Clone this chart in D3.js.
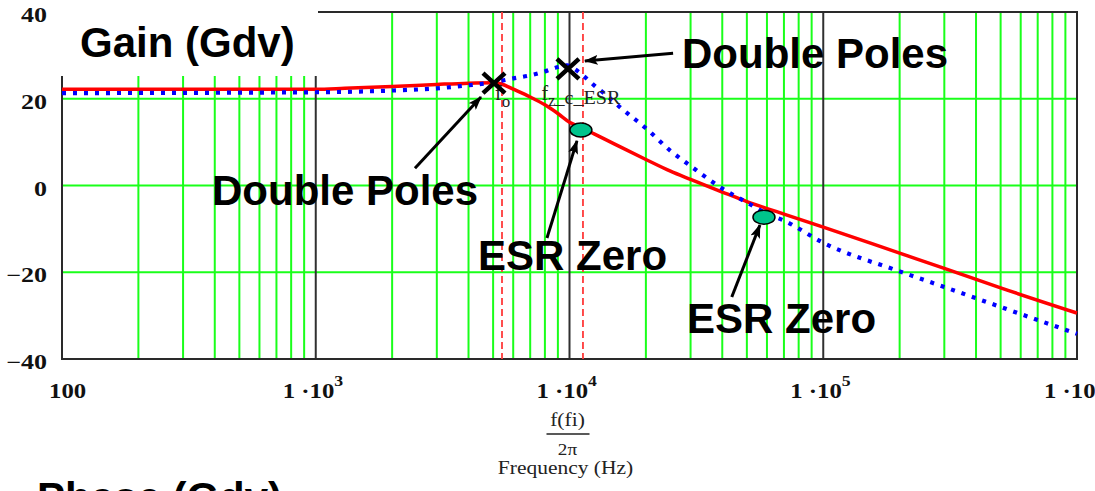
<!DOCTYPE html>
<html>
<head>
<meta charset="utf-8">
<script src="https://cdn.jsdelivr.net/npm/d3@7"></script>
<style>
  html, body { margin: 0; padding: 0; background: #fff; overflow: hidden; }
  svg { display: block; }
</style>
</head>
<body>
<svg id="chart" width="1095" height="491"></svg>
<script>
// ---------------- DATA ----------------
const redFreq = [100, 1000, 1300, 2000, 3000, 4000, 5000, 5400, 6000, 7000, 8000, 9000, 10000, 11000, 12500, 15000, 20000, 25000, 30000, 40000, 50000, 70000, 100000, 200000, 300000, 500000, 1000000];
const redGain = [22.2, 22.2, 22.4, 22.8, 23.3, 23.6, 23.7, 23.4, 22.2, 20.4, 18.6, 16.6, 14.6, 13.5, 11.9, 9.6, 6.0, 3.3, 1.4, -1.5, -3.7, -6.6, -9.6, -15.6, -19.1, -23.6, -29.4];

const blueFreq = [100, 1000, 2000, 3000, 4000, 5000, 6000, 7000, 8000, 9000, 9800, 10500, 11300, 12500, 14000, 16000, 20000, 25000, 30000, 40000, 50000, 60000, 70000, 100000, 200000, 300000, 500000, 1000000];
const blueGain = [21.3, 21.5, 21.9, 22.4, 23.1, 23.8, 24.7, 25.4, 26.3, 27.3, 27.7, 26.8, 25.4, 23.1, 20.8, 17.8, 13.2, 8.0, 4.5, -0.7, -3.9, -6.5, -8.1, -13.2, -19.8, -23.4, -28.0, -34.2];

const xTickValues = [100, 1000, 10000, 100000, 1000000];
const xTickBase = ["100", "1 ·10", "1 ·10", "1 ·10", "1 ·10"];
const xTickExp = ["", "3", "4", "5", "6"];
const yTickValues = [40, 20, 0, -20, -40];
const yTickLabels = ["40", "20", "0", "\u221220", "\u221240"];

// vertical reference lines (Hz)
const refFreqs = [5420, 11300];         // f_o, f_ESR (red dashed)
// pole markers (X) and ESR-zero markers (ellipses) in (Hz, dB)
const poleFreq = [5040, 9860];
const poleGain = [23.6, 26.9];
const zeroFreq = [11090, 58400];
const zeroGain = [12.8, -7.3];
// annotation arrows: tail -> tip, in (Hz, dB)
const arrowTailFreq = [25600, 2460, 8150, 43600];
const arrowTailGain = [30.5, 4.0, -12.1, -25.7];
const arrowTipFreq  = [11500, 4480, 10700, 56300];
const arrowTipGain  = [28.7, 20.4, 10.3, -9.1];

// ---------------- CHART ----------------
const svg = d3.select("#chart");
const pLeft = 62, pRight = 1077, pTop = 12, pBottom = 359;

const x = d3.scaleLog().domain([100, 1e6]).range([pLeft, pRight]);
const y = d3.scaleLinear().domain([-40, 40]).range([pBottom, pTop]);

const defs = svg.append("defs");
defs.append("marker").attr("id", "ah").attr("viewBox", "0 0 14 10")
  .attr("refX", 13).attr("refY", 5).attr("markerWidth", 14).attr("markerHeight", 10)
  .attr("markerUnits", "userSpaceOnUse").attr("orient", "auto")
  .append("path").attr("d", "M0,0 L14,5 L0,10 L3,5 Z").attr("fill", "#000");

// minor green vertical grid
const minor = [];
for (let d = 100; d < 1e6; d *= 10) for (let m = 2; m <= 9; m++) minor.push(m * d);
svg.append("g").selectAll("line").data(minor).join("line")
  .attr("x1", d => x(d)).attr("x2", d => x(d)).attr("y1", pTop).attr("y2", pBottom)
  .attr("stroke", "#1aff1a").attr("stroke-width", 2);
// horizontal green grid
svg.append("g").selectAll("line").data([20, 0, -20]).join("line")
  .attr("x1", pLeft).attr("x2", pRight).attr("y1", d => y(d)).attr("y2", d => y(d))
  .attr("stroke", "#1aff1a").attr("stroke-width", 2);
// decade lines
svg.append("g").selectAll("line").data([1e3, 1e4, 1e5]).join("line")
  .attr("x1", d => x(d)).attr("x2", d => x(d)).attr("y1", pTop).attr("y2", pBottom)
  .attr("stroke", "#303030").attr("stroke-width", 2);
// frame
svg.append("rect").attr("x", pLeft).attr("y", pTop).attr("width", pRight - pLeft).attr("height", pBottom - pTop)
  .attr("fill", "none").attr("stroke", "#2a2a2a").attr("stroke-width", 2);

// axes (positions only), labels drawn below
const xAxis = svg.append("g").attr("transform", `translate(0,${pBottom})`)
  .call(d3.axisBottom(x).tickValues(xTickValues).tickSize(0).tickFormat(""));
xAxis.select(".domain").remove();
const yAxis = svg.append("g").attr("transform", `translate(${pLeft},0)`)
  .call(d3.axisLeft(y).tickValues(yTickValues).tickSize(0).tickFormat(""));
yAxis.select(".domain").remove();

// red dashed reference lines
svg.append("g").selectAll("line").data(refFreqs).join("line")
  .attr("x1", d => x(d)).attr("x2", d => x(d)).attr("y1", pTop).attr("y2", pBottom)
  .attr("stroke", "#ff3a3a").attr("stroke-width", 1.8).attr("stroke-dasharray", "7 4");

// curves
const line = d3.line().curve(d3.curveMonotoneX).x(d => x(d[0])).y(d => y(d[1]));
svg.append("path").datum(redFreq.map((f, i) => [f, redGain[i]]))
  .attr("d", line).attr("fill", "none").attr("stroke", "#ff0000").attr("stroke-width", 3.5);
svg.append("path").datum(blueFreq.map((f, i) => [f, blueGain[i]]))
  .attr("d", line).attr("fill", "none").attr("stroke", "#0000ff").attr("stroke-width", 4.2)
  .attr("stroke-dasharray", "4 7");

// white title box covering top-left of plot
svg.append("rect").attr("x", 55).attr("y", 0).attr("width", 263).attr("height", 76).attr("fill", "#fff");

// tick labels (stretched serif like Mathcad)
const serif = "'Liberation Serif', 'Times New Roman', serif";
xTickValues.forEach((v, i) => {
  const g = svg.append("g").attr("transform", `translate(${x(v) + (i === 0 ? -13 : -33)},398) scale(1.18,1)`);
  const t = g.append("text").attr("font-family", serif).attr("font-weight", "bold")
    .attr("font-size", 21).attr("fill", "#111");
  t.append("tspan").text(xTickBase[i]);
  if (xTickExp[i]) t.append("tspan").attr("dy", -12).attr("font-size", 15).text(xTickExp[i]);
});
yTickValues.forEach((v, i) => {
  svg.append("g").attr("transform", `translate(47,${y(v) + 10}) scale(1.3,1)`)
    .append("text").attr("text-anchor", "end").attr("font-family", serif).attr("font-weight", "bold")
    .attr("font-size", 20).attr("fill", "#111").text(yTickLabels[i]);
});

// x axis title (Mathcad style)
const cx = x(1e4) - 2;
svg.append("g").attr("transform", `translate(${cx},426) scale(1.13,1)`)
  .append("text").attr("text-anchor", "middle").attr("font-family", serif).attr("font-size", 19)
  .attr("fill", "#222").text("f(fi)");
svg.append("line").attr("x1", cx - 21).attr("x2", cx + 22).attr("y1", 434).attr("y2", 434)
  .attr("stroke", "#222").attr("stroke-width", 1.3);
svg.append("g").attr("transform", `translate(${cx},455) scale(1.13,1)`)
  .append("text").attr("text-anchor", "middle").attr("font-family", serif).attr("font-size", 17)
  .attr("fill", "#222").text("2π");
svg.append("g").attr("transform", `translate(${cx - 2},474) scale(1.13,1)`)
  .append("text").attr("text-anchor", "middle").attr("font-family", serif).attr("font-size", 19)
  .attr("fill", "#222").text("Frequency (Hz)");

// Mathcad marker labels
const fo = svg.append("text").attr("x", x(refFreqs[0]) - 7).attr("y", 100)
  .attr("font-family", serif).attr("font-size", 20).attr("fill", "#222");
fo.append("tspan").text("f");
fo.append("tspan").attr("dy", 7).attr("font-size", 17).text("o");
const fz = svg.append("text").attr("x", x(1e4) - 28).attr("y", 100)
  .attr("font-family", serif).attr("font-size", 20).attr("fill", "#222");
fz.append("tspan").text("f");
fz.append("tspan").attr("dy", 6).attr("font-size", 16).text("z");
svg.append("text").attr("x", x(1e4) - 15).attr("y", 104).attr("font-family", serif)
  .attr("font-size", 18).attr("fill", "#222").attr("textLength", 66).attr("lengthAdjust", "spacingAndGlyphs")
  .text("_c_ESR");

// pole X markers
const xs = svg.append("g");
poleFreq.forEach((f, i) => {
  const px = x(f), py = y(poleGain[i]);
  xs.append("path").attr("d", `M${px - 11},${py - 10}L${px + 11},${py + 10}M${px - 11},${py + 10}L${px + 11},${py - 10}`)
    .attr("stroke", "#000").attr("stroke-width", 4.5);
});
// ESR-zero ellipses
svg.append("g").selectAll("ellipse").data(zeroFreq).join("ellipse")
  .attr("cx", d => x(d)).attr("cy", (d, i) => y(zeroGain[i])).attr("rx", 11).attr("ry", 7)
  .attr("fill", "#00c48c").attr("stroke", "#000").attr("stroke-width", 1.5);

// arrows
svg.append("g").selectAll("line").data(arrowTailFreq).join("line")
  .attr("x1", d => x(d)).attr("y1", (d, i) => y(arrowTailGain[i]))
  .attr("x2", (d, i) => x(arrowTipFreq[i])).attr("y2", (d, i) => y(arrowTipGain[i]))
  .attr("stroke", "#000").attr("stroke-width", 3).attr("marker-end", "url(#ah)");

// big annotation labels
const sans = "'Liberation Sans', Arial, sans-serif";
const big = [
  ["Gain (Gdv)", 80, 57],
  ["Double Poles", 682, 68],
  ["Double Poles", 212, 205],
  ["ESR Zero", 478, 270],
  ["ESR Zero", 687, 333],
  ["Phase (Gdv)", 37, 512]
];
svg.append("g").selectAll("text").data(big).join("text")
  .attr("x", d => d[1]).attr("y", d => d[2]).attr("font-family", sans).attr("font-weight", "bold")
  .attr("font-size", 42).attr("fill", "#000").text(d => d[0]);
</script>
</body>
</html>
